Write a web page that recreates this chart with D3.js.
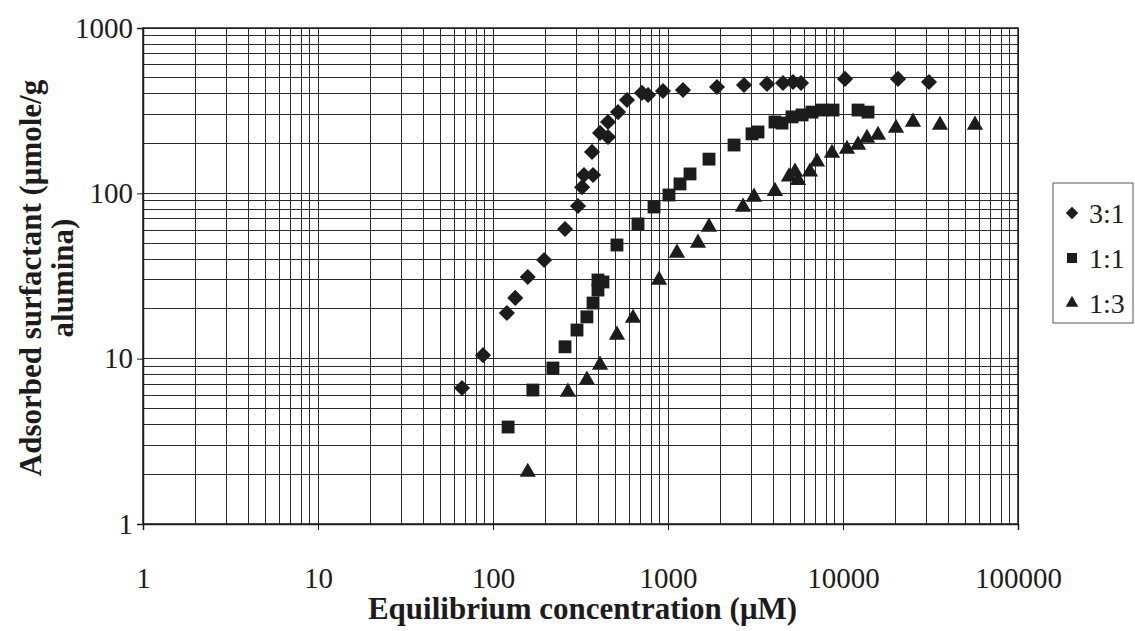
<!DOCTYPE html>
<html>
<head>
<meta charset="utf-8">
<script src="https://cdn.jsdelivr.net/npm/d3@7"></script>
<style>
  html, body { margin: 0; padding: 0; background: #fff; }
  svg { display: block; }
</style>
</head>
<body>
<div id="chart"></div>
<script>
// Adsorption isotherms, log-log, three surfactant ratios

const SERIES = ["3:1", "1:1", "1:3"];

const X_3_1 = [66.5, 87.7, 120, 134, 158, 196, 258, 306, 323, 331, 373, 368, 409, 454, 454,
  518, 583, 710, 769, 936, 1218, 1905, 2718, 3680, 4541, 5179, 5754, 10270, 20620, 31000];
const Y_3_1 = [6.65, 10.5, 18.9, 23.3, 31.2, 39.5, 60.9, 83.8, 109, 129, 129, 178, 232, 219, 270,
  310, 367, 405, 393, 416, 422, 440, 452, 459, 465, 471, 465, 492, 492, 471];

const X_1_1 = [122, 169, 220, 258, 302, 344, 373, 398, 398, 425, 511, 674, 832, 1013, 1171,
  1336, 1715, 2384, 3020, 3268, 4086, 4482, 5112, 5833, 6650, 7586, 8770, 12190, 13900];
const Y_1_1 = [3.86, 6.46, 8.78, 11.8, 14.9, 17.9, 21.7, 26, 29.9, 29.1, 48.7, 65.3, 82.7, 97.7, 114,
  131, 161, 196, 229, 235, 270, 266, 290, 298, 310, 319, 319, 319, 310];

const X_1_3 = [158, 268, 344, 409, 511, 631, 889, 1125, 1484, 1715, 2683, 3100, 4086, 4914,
  5319, 5534, 6476, 7101, 8650, 10540, 12190, 13710, 15850, 20090, 25120, 35830, 56790];
const Y_1_3 = [2.06, 6.29, 7.43, 9.16, 13.9, 17.6, 29.9, 43.6, 50.1, 62.6, 82.7, 95, 103, 126,
  135, 120, 135, 155, 175, 185, 196, 216, 225, 248, 270, 259, 259];

const X_TICKS = [1, 10, 100, 1000, 10000, 100000];
const Y_TICKS = [1, 10, 100, 1000];

const X_TITLE = "Equilibrium concentration (\u03bcM)";
const Y_TITLE = ["Adsorbed surfactant (\u03bcmole/g", "alumina)"];

const seriesData = [
  { name: SERIES[0], xs: X_3_1, ys: Y_3_1, shape: "diamond" },
  { name: SERIES[1], xs: X_1_1, ys: Y_1_1, shape: "square" },
  { name: SERIES[2], xs: X_1_3, ys: Y_1_3, shape: "triangle" },
];

const totalW = 1135, totalH = 631;
const plot = { left: 143, right: 1018, top: 28, bottom: 524 };
const FONT = "'Liberation Serif', 'Times New Roman', serif";
const INK = "#1c1c1c";

const svg = d3.select("#chart").append("svg")
  .attr("width", totalW).attr("height", totalH);

const x = d3.scaleLog().domain([1, 100000]).range([plot.left, plot.right]);
const y = d3.scaleLog().domain([1, 1000]).range([plot.bottom, plot.top]);

/* grid: majors + minors on both axes */
const grid = svg.append("g").attr("stroke", "#2a2a2a").attr("stroke-width", 1).attr("shape-rendering", "crispEdges");
grid.selectAll(".vx").data(x.ticks()).join("line")
  .attr("x1", d => x(d)).attr("x2", d => x(d))
  .attr("y1", plot.top).attr("y2", plot.bottom);
grid.selectAll(".hy").data(y.ticks()).join("line")
  .attr("x1", plot.left).attr("x2", plot.right)
  .attr("y1", d => y(d)).attr("y2", d => y(d));

/* axes */
svg.append("g").attr("transform", `translate(0,${plot.bottom})`)
  .call(d3.axisBottom(x).tickValues(X_TICKS).tickSize(6).tickPadding(37).tickFormat(d3.format("d")))
  .call(ax => ax.select(".domain").attr("stroke", INK).attr("stroke-width", 1.5))
  .call(ax => ax.selectAll("line").attr("stroke", INK))
  .selectAll("text").attr("font-family", FONT).attr("font-size", 29).attr("fill", INK);

svg.append("g").attr("transform", `translate(${plot.left},0)`)
  .call(d3.axisLeft(y).tickValues(Y_TICKS).tickSize(6).tickPadding(4).tickFormat(d3.format("d")))
  .call(ax => ax.select(".domain").attr("stroke", INK).attr("stroke-width", 1.5))
  .call(ax => ax.selectAll("line").attr("stroke", INK))
  .selectAll("text").attr("font-family", FONT).attr("font-size", 29).attr("fill", INK);

/* right and top border */
svg.append("rect")
  .attr("x", plot.left).attr("y", plot.top)
  .attr("width", plot.right - plot.left).attr("height", plot.bottom - plot.top)
  .attr("fill", "none").attr("stroke", INK).attr("stroke-width", 1.5);

/* titles */
svg.append("text")
  .attr("x", (plot.left + plot.right) / 2 + 2).attr("y", 619)
  .attr("text-anchor", "middle").attr("font-family", FONT).attr("font-weight", "bold")
  .attr("font-size", 31).attr("fill", INK).text(X_TITLE);

const yt = svg.append("text")
  .attr("transform", `translate(30,${(plot.top + plot.bottom) / 2 + 2}) rotate(-90)`)
  .attr("text-anchor", "middle").attr("font-family", FONT).attr("font-weight", "bold")
  .attr("font-size", 31).attr("fill", INK);
Y_TITLE.forEach((line, i) => {
  yt.append("tspan").attr("x", 0).attr("dy", i === 0 ? "0.35em" : "1.05em").text(line);
});

/* markers */
const markerPath = (shape, scale) => {
  if (shape === "diamond") return d3.symbol().type(d3.symbolSquare).size(130 * scale)();
  if (shape === "square") return d3.symbol().type(d3.symbolSquare).size(165 * scale)();
  return d3.symbol().type(d3.symbolTriangle).size(115 * scale)();
};
const markerRot = shape => shape === "diamond" ? " rotate(45)" : "";

seriesData.forEach(s => {
  const pts = s.xs.map((v, i) => [v, s.ys[i]]);
  svg.append("g").selectAll("path").data(pts).join("path")
    .attr("d", markerPath(s.shape, 1))
    .attr("transform", d => `translate(${x(d[0])},${y(d[1])})${markerRot(s.shape)}`)
    .attr("fill", INK);
});

/* legend */
const lg = svg.append("g").attr("transform", "translate(1053,183)");
lg.append("rect").attr("width", 80).attr("height", 140)
  .attr("fill", "#fff").attr("stroke", "#555").attr("stroke-width", 1);
seriesData.forEach((s, i) => {
  const cy = 30 + i * 45;
  lg.append("path").attr("d", markerPath(s.shape, 0.6))
    .attr("transform", `translate(19,${cy})${markerRot(s.shape)}`).attr("fill", INK);
  lg.append("text").attr("x", 36).attr("y", cy).attr("dy", "0.35em")
    .attr("font-family", FONT).attr("font-size", 28).attr("fill", INK).text(s.name);
});
</script>
</body>
</html>
